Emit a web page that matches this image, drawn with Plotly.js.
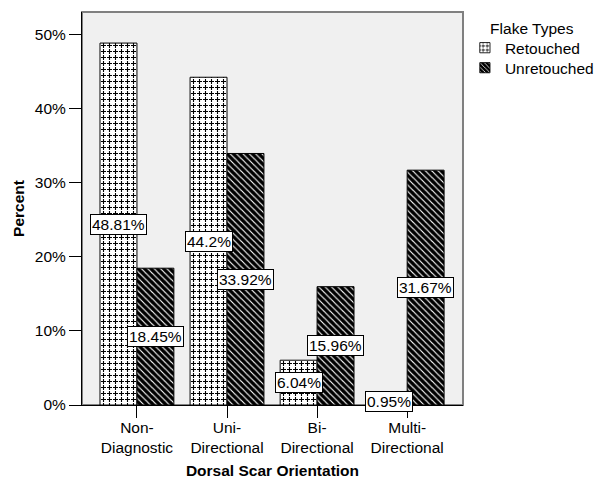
<!DOCTYPE html>
<html>
<head>
<meta charset="utf-8">
<script src="https://cdn.plot.ly/plotly-3.0.1.min.js"></script>
<style>body{margin:0;padding:0;background:#fff;}#chart{width:595px;height:479px;}</style>
</head>
<body>
<div id="chart"></div>
<script>
const categories = ["Non-<br>Diagnostic", "Uni-<br>Directional", "Bi-<br>Directional", "Multi-<br>Directional"];
const retouched = [48.81, 44.2, 6.04, 0.95];
const unretouched = [18.45, 33.92, 15.96, 31.67];
const retouchedLabels = ["48.81%", "44.2%", "6.04%", "0.95%"];
const unretouchedLabels = ["18.45%", "33.92%", "15.96%", "31.67%"];
const yTicks = [0, 10, 20, 30, 40, 50];

const font = "Arial, 'Liberation Sans', sans-serif";
const fs = 15.5;
const halfBar = 0.205;

const traces = [
  {
    type: "bar", name: "Retouched", x: categories, y: retouched,
    marker: {color: "white", line: {color: "black", width: 1},
      pattern: {shape: "+", fgcolor: "black", bgcolor: "white", size: 6, solidity: 0.3, fillmode: "replace"}},
    hoverinfo: "skip"
  },
  {
    type: "bar", name: "Unretouched", x: categories, y: unretouched,
    marker: {color: "black", line: {color: "black", width: 1},
      pattern: {shape: "\\", fgcolor: "white", bgcolor: "black", size: 4.5, solidity: 0.25, fillmode: "replace"}},
    hoverinfo: "skip"
  }
];

const annotations = [];
retouched.forEach((v, i) => annotations.push({
  x: i - halfBar, y: v / 2, xref: "x", yref: "y", text: retouchedLabels[i], showarrow: false,
  bgcolor: "white", bordercolor: "black", borderwidth: 1, borderpad: 1,
  font: {family: font, size: fs, color: "black"}
}));
unretouched.forEach((v, i) => annotations.push({
  x: i + halfBar, y: v / 2, xref: "x", yref: "y", text: unretouchedLabels[i], showarrow: false,
  bgcolor: "white", bordercolor: "black", borderwidth: 1, borderpad: 1,
  font: {family: font, size: fs, color: "black"}
}));

const layout = {
  width: 595, height: 479,
  margin: {l: 82, r: 132, t: 12, b: 74, autoexpand: false},
  paper_bgcolor: "white", plot_bgcolor: "#f0f0f0",
  font: {family: font, size: fs, color: "black"},
  barmode: "group", bargap: 0.18, bargroupgap: 0,
  showlegend: true,
  legend: {
    x: 1.005, xanchor: "left", y: 0.995, yanchor: "top",
    title: {text: "Flake Types", side: "top center", font: {family: font, size: fs}},
    font: {family: font, size: fs}, itemwidth: 30, tracegroupgap: 0,
    bgcolor: "rgba(0,0,0,0)"
  },
  xaxis: {
    type: "category", range: [-0.61, 3.62],
    showline: true, linecolor: "black", linewidth: 1,
    ticks: "outside", ticklen: 12, tickcolor: "black",
    ticklabelstandoff: -4,
    tickfont: {family: font, size: fs},
    title: {text: "<b>Dorsal Scar Orientation</b>", font: {family: font, size: fs}, standoff: 12},
    showgrid: false, zeroline: false, fixedrange: true
  },
  yaxis: {
    range: [0, 53],
    tickvals: yTicks, ticktext: yTicks.map(t => t + "%"),
    showline: true, linecolor: "black", linewidth: 1,
    ticks: "outside", ticklen: 12, tickcolor: "black",
    tickfont: {family: font, size: fs},
    title: {text: "<b>Percent</b>", font: {family: font, size: fs}, standoff: 6},
    showgrid: false, zeroline: false, fixedrange: true
  },
  shapes: [{
    type: "rect", xref: "paper", yref: "paper", x0: 0, x1: 1, y0: 0, y1: 1,
    line: {color: "#808080", width: 2}, fillcolor: "rgba(0,0,0,0)", layer: "below"
  }],
  annotations: annotations
};

function crossPatterns(gd) {
  // turn the continuous "+" grid into separate small crosses
  gd.querySelectorAll("pattern").forEach(pat => {
    const s = parseFloat(pat.getAttribute("width"));
    if (!(s > 0)) return;
    pat.querySelectorAll("path").forEach(p => {
      const d = (p.getAttribute("d") || "").replace(/\s/g, "");
      const nums = d.match(/-?[\d.]+/g) || [];
      const moves = (d.match(/M/g) || []).length;
      const isPlus = moves === 2 && nums.length === 8 &&
        Math.abs(parseFloat(nums[0]) - s / 2) < 0.01 && Math.abs(parseFloat(nums[1])) < 0.01 &&
        Math.abs(parseFloat(nums[4])) < 0.01;
      if (isPlus) {
        const m = s / 2 + 0.5, a = 1, b = s;
        p.setAttribute("d", `M${m},${a}L${m},${b}M${a},${m}L${b},${m}`);
        p.style.strokeWidth = "1.1px";
        p.setAttribute("stroke-width", "1.1");
      }
    });
  });
}

function tightenLegend(gd) {
  const items = Array.from(gd.querySelectorAll(".legend .traces"));
  const parse = el => {
    const m = /translate\(\s*([-\d.]+)[ ,]+([-\d.]+)\s*\)/.exec(el.getAttribute("transform") || "");
    return m ? [parseFloat(m[1]), parseFloat(m[2])] : null;
  };
  const first = items.length ? parse(items[0]) : null;
  if (!first) return;
  items.forEach((el, i) => {
    const t = parse(el);
    if (t) el.setAttribute("transform", `translate(${t[0]},${first[1] - 3 + i * 20})`);
    const sym = el.querySelector(".legendpoints path");
    if (sym) {
      const tr = sym.getAttribute("transform") || "";
      sym.setAttribute("transform", tr + " scale(0.85)");
    }
  });
}

Plotly.newPlot("chart", traces, layout, {displayModeBar: false, staticPlot: true}).then(gd => {
  crossPatterns(gd);
  tightenLegend(gd);
});
</script>
</body>
</html>
